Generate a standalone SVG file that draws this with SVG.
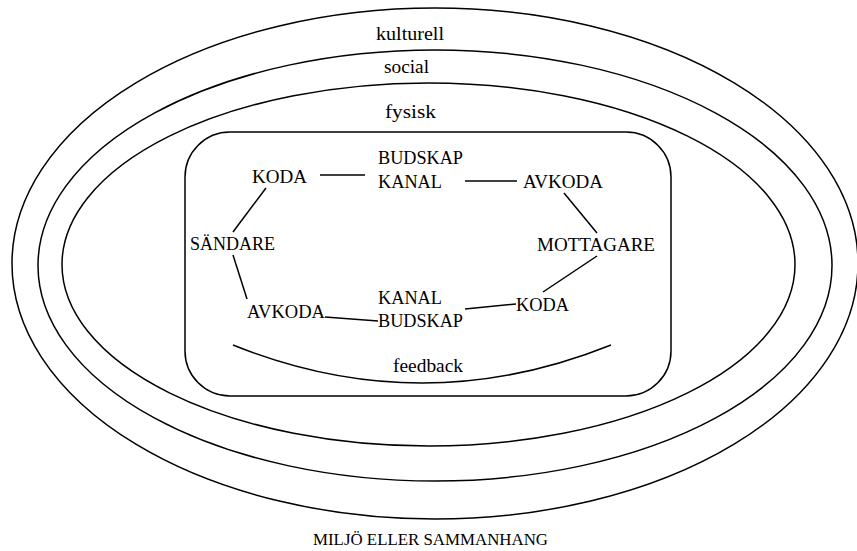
<svg xmlns="http://www.w3.org/2000/svg" width="857" height="551" viewBox="0 0 857 551">
  <style>
    .ring { fill: none; stroke: #000; stroke-width: 1.5; }
    .box { fill: none; stroke: #000; stroke-width: 1.5; }
    .edge { fill: none; stroke: #000; stroke-width: 1.5; }
  </style>
  <rect width="857" height="551" fill="#fff"/>

  <g font-family="Liberation Serif, serif" font-size="18" fill="#000">
  <!-- environment rings -->
  <g id="ring-kulturell">
    <ellipse class="ring" cx="435" cy="263.5" rx="423" ry="255.5"/>
    <text x="376" y="40" font-size="19" textLength="68" lengthAdjust="spacingAndGlyphs">kulturell</text>
  </g>
  <g id="ring-social">
    <ellipse class="ring" cx="435" cy="265.5" rx="397" ry="215.5"/>
    <text x="384" y="73" font-size="19" textLength="45" lengthAdjust="spacingAndGlyphs">social</text>
  </g>
  <g id="ring-fysisk">
    <ellipse class="ring" cx="428.5" cy="264.5" rx="366.5" ry="181.5"/>
    <text x="385" y="118" font-size="19" textLength="51" lengthAdjust="spacingAndGlyphs">fysisk</text>
  </g>

  <!-- communication frame -->
  <g id="frame">
    <rect class="box" x="185" y="132" width="486" height="264" rx="45" ry="45"/>
  </g>

  <!-- connectors -->
  <g id="connectors">
    <line class="edge" x1="320" y1="175" x2="365" y2="175"/>
    <line class="edge" x1="465" y1="181" x2="517" y2="181"/>
    <line class="edge" x1="266" y1="188" x2="233" y2="232"/>
    <line class="edge" x1="233" y1="255" x2="247" y2="299"/>
    <line class="edge" x1="325" y1="317" x2="378" y2="321"/>
    <line class="edge" x1="465" y1="309" x2="516" y2="304"/>
    <line class="edge" x1="543" y1="292" x2="597" y2="256"/>
    <line class="edge" x1="564" y1="193" x2="597" y2="233"/>
    <path id="feedback-arc" class="edge" d="M233 345 Q422 421 611 345"/>
  </g>

  <!-- nodes -->
  <g id="koda-sender"><text x="252" y="183" textLength="55" lengthAdjust="spacingAndGlyphs">KODA</text></g>
  <g id="budskap-kanal-out">
    <text x="378" y="164" textLength="85" lengthAdjust="spacingAndGlyphs">BUDSKAP</text>
    <text x="378" y="188" textLength="64" lengthAdjust="spacingAndGlyphs">KANAL</text>
  </g>
  <g id="avkoda-receiver"><text x="523" y="188" textLength="80" lengthAdjust="spacingAndGlyphs">AVKODA</text></g>
  <g id="sandare"><text x="190" y="250" textLength="85" lengthAdjust="spacingAndGlyphs">SÄNDARE</text></g>
  <g id="mottagare"><text x="537" y="251" textLength="118" lengthAdjust="spacingAndGlyphs">MOTTAGARE</text></g>
  <g id="avkoda-sender"><text x="247" y="318" textLength="78" lengthAdjust="spacingAndGlyphs">AVKODA</text></g>
  <g id="kanal-budskap-back">
    <text x="378" y="304" textLength="64" lengthAdjust="spacingAndGlyphs">KANAL</text>
    <text x="378" y="327" textLength="85" lengthAdjust="spacingAndGlyphs">BUDSKAP</text>
  </g>
  <g id="koda-receiver"><text x="516" y="311" textLength="53" lengthAdjust="spacingAndGlyphs">KODA</text></g>
  <g id="feedback"><text x="393" y="372" textLength="70" lengthAdjust="spacingAndGlyphs">feedback</text></g>

  <!-- caption -->
  <g id="caption"><text x="313" y="545" font-size="17" textLength="235" lengthAdjust="spacingAndGlyphs">MILJÖ ELLER SAMMANHANG</text></g>
  </g>
</svg>
